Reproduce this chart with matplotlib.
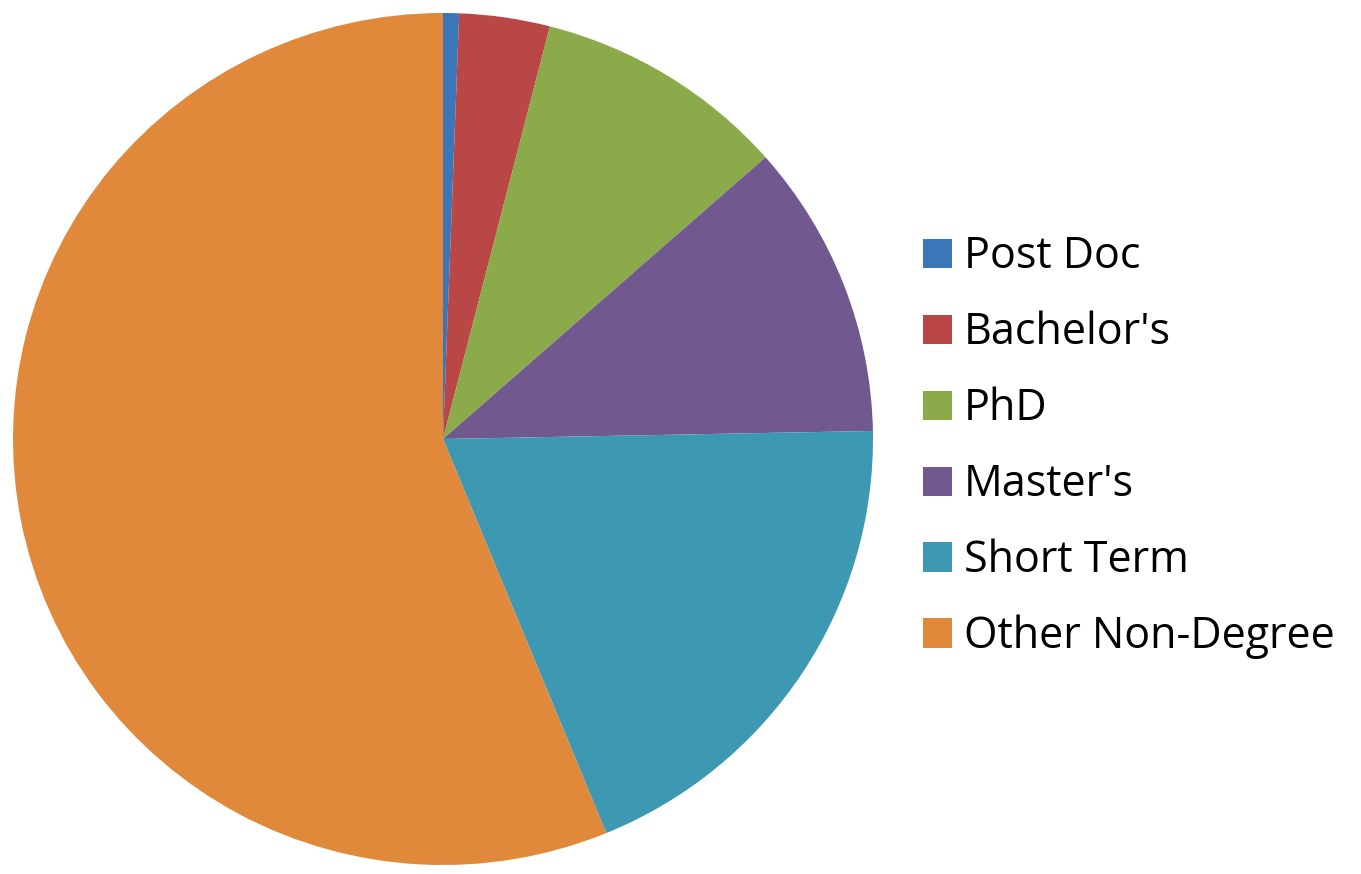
import matplotlib
matplotlib.use("Agg")
import matplotlib.pyplot as plt

categories = ["Post Doc", "Bachelor's", "PhD", "Master's", "Short Term", "Other Non-Degree"]
values = [0.6, 3.4, 9.5, 11.2, 19.1, 56.2]
colors = ["#3B76B9", "#B94746", "#8BAB4B", "#71588F", "#3D99B1", "#E0893B"]

W, H = 1361, 874
fig = plt.figure(figsize=(W / 100, H / 100), dpi=100)
cx, cy, rx, ry = 443, 439, 430, 426
ax = fig.add_axes([(cx - rx) / W, (H - cy - ry) / H, 2 * rx / W, 2 * ry / H])
wedges, _ = ax.pie(values, colors=colors, startangle=90, counterclock=False,
                   radius=1, wedgeprops=dict(linewidth=0))
ax.set_xlim(-1, 1)
ax.set_ylim(-1, 1)
ax.set_aspect("auto")
ax.axis("off")

leg = fig.legend(wedges, categories, loc="upper left",
                 bbox_to_anchor=(923 / W, 1 - 235 / H),
                 frameon=False, prop={"family": "Open Sans", "size": 31},
                 handlelength=0.67, handleheight=0.67, handletextpad=0.28,
                 labelspacing=0.73, borderpad=0, borderaxespad=0)
fig.savefig("out.png", dpi=100)
